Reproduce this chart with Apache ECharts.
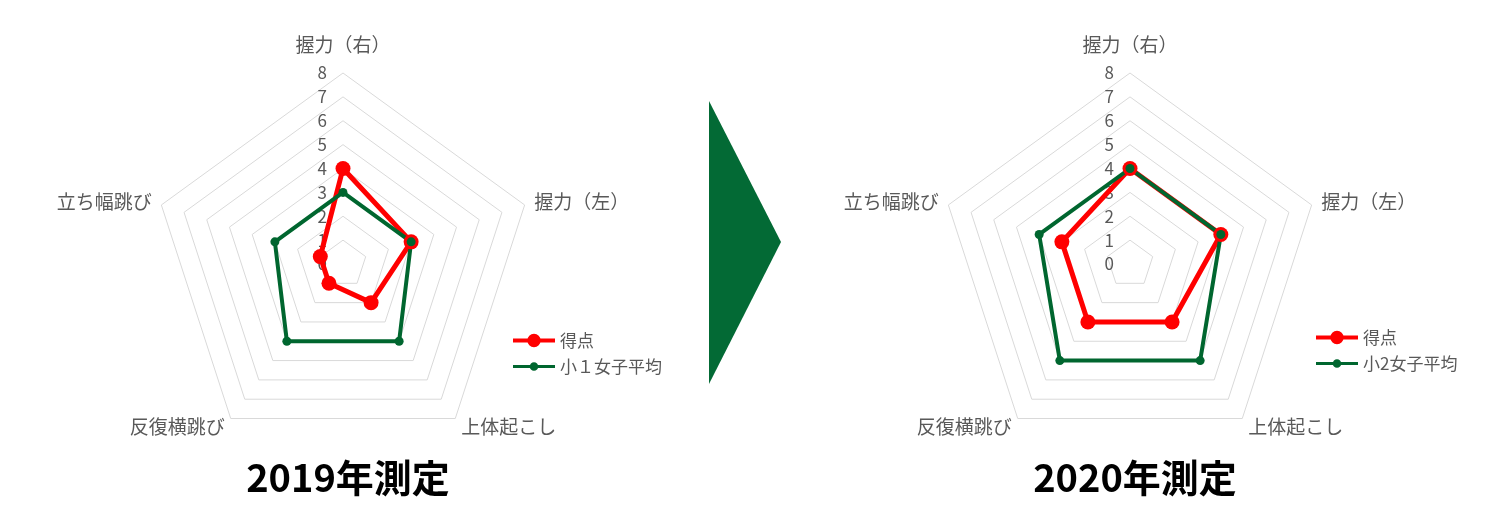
<!doctype html>
<html lang="ja">
<head>
<meta charset="utf-8">
<script src="https://cdn.jsdelivr.net/npm/echarts@6/dist/echarts.min.js"></script>
<style>
  html, body { margin: 0; padding: 0; background: #fff; }
  #main { width: 1500px; height: 513px; }
</style>
</head>
<body>
<div id="main"></div>
<script type="text/javascript">
    // 項目（時計回り：上から）
    var items = ['握力（右）', '握力（左）', '上体起こし', '反復横跳び', '立ち幅跳び'];
    var ticks = ['0', '1', '2', '3', '4', '5', '6', '7', '8'];
    var maxScore = 8;

    // 2019年測定
    var score2019 = [4, 3, 2, 1, 1];
    var avg2019 = [3, 3, 4, 4, 3];
    // 2020年測定
    var score2020 = [4, 4, 3, 3, 3];
    var avg2020 = [4, 4, 5, 5, 4];

    var titles = ['2019年測定', '2020年測定'];
    var avgNames = ['小１女子平均', '小2女子平均'];

    var font = '"Noto Sans CJK JP", "Noto Sans", sans-serif';
    var gray = '#595959';
    var red = '#ff0000';
    var green = '#00662f';

    // 凡例のアイコン（線＋マーカー）
    var iconRed = 'path://M0,0L0.05,0L0.05,0.05ZM0,14L0.05,14L0.05,13.95ZM44,0L43.95,0L43.95,0.05Z' +
        'M0,5L44,5L44,9L0,9Z' +
        'M15,7A7,7 0 1,1 29,7A7,7 0 1,1 15,7Z';
    var iconGreen = 'path://M0,0L0.05,0L0.05,0.05ZM0,14L0.05,14L0.05,13.95ZM44,0L43.95,0L43.95,0.05Z' +
        'M0,5.3L44,5.3L44,8.7L0,8.7Z' +
        'M17.5,7A4.5,4.5 0 1,1 26.5,7A4.5,4.5 0 1,1 17.5,7Z';

    // echarts の radar は反時計回りなので、並びを入れ替える
    function ccw(arr) {
        return [arr[0], arr[4], arr[3], arr[2], arr[1]];
    }

    var centers = [[343, 264], [1130, 264]];
    var radius = 191;
    var legendPos = [{left: 508, top: 327}, {left: 1311, top: 324}];

    var radars = [], polars = [], radiusAxes = [], angleAxes = [], series = [], legends = [], titleList = [];
    var scores = [score2019, score2020];
    var avgs = [avg2019, avg2020];

    for (var i = 0; i < 2; i++) {
        radars.push({
            center: centers[i],
            radius: radius,
            startAngle: 90,
            shape: 'polygon',
            splitNumber: maxScore,
            indicator: ccw(items).map(function (n) { return {name: n, min: 0, max: maxScore}; }),
            axisName: {
                color: gray, fontSize: 19, fontFamily: font,
                formatter: function (name) {
                    return name === items[0] ? '{top|' + name + '}' : name;
                },
                rich: {top: {color: gray, fontSize: 19, fontFamily: font, padding: [0, 0, 9, 0]}}
            },
            nameGap: 10,
            axisLine: {show: false},
            axisTick: {show: false},
            axisLabel: {show: false},
            splitArea: {show: false},
            splitLine: {lineStyle: {color: '#d9d9d9', width: 1}}
        });
        // 目盛りラベル用の極座標（線は出さない）
        polars.push({center: centers[i], radius: radius});
        radiusAxes.push({
            polarIndex: i,
            type: 'category',
            data: ticks,
            boundaryGap: false,
            axisLine: {show: false},
            axisTick: {show: false},
            splitLine: {show: false},
            axisLabel: {color: gray, fontSize: 17, fontFamily: font, margin: 16}
        });
        angleAxes.push({
            polarIndex: i,
            startAngle: 90,
            show: false,
            min: 0,
            max: 360
        });
        series.push({
            type: 'radar',
            radarIndex: i,
            z: 3,
            data: [
                {
                    value: ccw(scores[i]),
                    name: '得点',
                    symbol: 'circle',
                    symbolSize: 15,
                    lineStyle: {color: red, width: 5},
                    itemStyle: {color: red}
                },
                {
                    value: ccw(avgs[i]),
                    name: avgNames[i],
                    symbol: 'circle',
                    symbolSize: 9,
                    lineStyle: {color: green, width: 4},
                    itemStyle: {color: green}
                }
            ]
        });
        legends.push({
            orient: 'vertical',
            left: legendPos[i].left,
            top: legendPos[i].top,
            itemWidth: 42,
            itemHeight: 14,
            itemGap: 9,
            textGap: 2,
            data: [
                {name: '得点', icon: iconRed, itemStyle: {color: red}},
                {name: avgNames[i], icon: iconGreen, itemStyle: {color: green}}
            ],
            textStyle: {color: gray, fontSize: 17, fontFamily: font}
        });
        titleList.push({
            text: titles[i],
            left: centers[i][0],
            top: 454,
            textAlign: 'center',
            textStyle: {color: '#000', fontSize: 38, fontWeight: 'bold', fontFamily: font}
        });
    }

    var myChart = echarts.init(document.getElementById('main'));
    myChart.setOption({
        animation: false,
        title: titleList,
        legend: legends,
        radar: radars,
        polar: polars,
        radiusAxis: radiusAxes,
        angleAxis: angleAxes,
        series: series,
        graphic: [{
            // 中央の矢印
            type: 'polygon',
            shape: {points: [[709, 101], [781, 242], [709, 384]]},
            style: {fill: '#036a35'}
        }]
    });
</script>
</body>
</html>
